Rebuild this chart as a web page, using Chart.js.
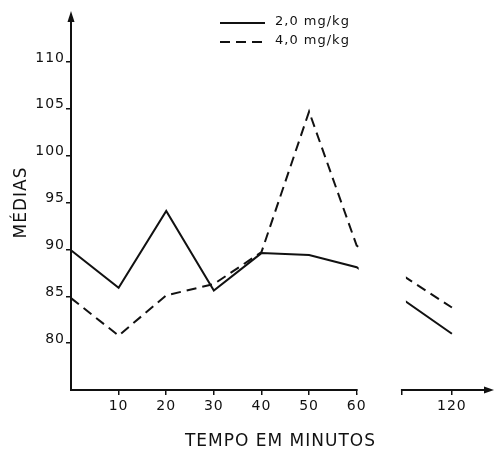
<!DOCTYPE html>
<html>
<head>
<meta charset="utf-8">
<script src="https://cdn.jsdelivr.net/npm/chart.js@4.4.1/dist/chart.umd.min.js"></script>
<style>
  html, body { margin: 0; padding: 0; background: #fff; }
  #wrap { position: relative; width: 494px; height: 452px; }
</style>
</head>
<body>
<div id="wrap"><canvas id="chart"></canvas></div>
<script>
// tempo (min) e médias
var tempos = [0, 10, 20, 30, 40, 50, 60, 120];
var dose2 = [89.9, 85.9, 94.1, 85.6, 89.6, 89.4, 88.1, 81.0];
var dose4 = [84.8, 80.8, 85.1, 86.3, 89.7, 104.7, 90.4, 83.8];
var xTickLabels = [10, 20, 30, 40, 50, 60, 120];
var yTicks = [80, 85, 90, 95, 100, 105, 110];

// eixo x interrompido entre 60 e 120 min
var CORTE = 60, SALTO = 40, INICIO2 = 69.5;
function pos(t) { return t > CORTE ? t - SALTO : t; }
function tempo(p) { return p > CORTE ? p + SALTO : p; }

function pontos(vals) {
  return tempos.map(function(t, i) { return { x: pos(t), y: vals[i] }; });
}

var INK = '#111';
var fonte = 'DejaVu Sans';

// corte do eixo, setas e legenda
var extras = {
  id: 'extras',
  beforeDraw: function(chart) {
    chart.ctx.letterSpacing = '1px';
  },
  afterDatasetsDraw: function(chart) {
    var ctx = chart.ctx, a = chart.chartArea, xs = chart.scales.x;
    var g0 = xs.getPixelForValue(CORTE), g1 = xs.getPixelForValue(INICIO2);
    ctx.save();
    ctx.fillStyle = '#fff';
    ctx.fillRect(g0 + 2, a.top - 5, (g1 + 4) - (g0 + 2), a.bottom - 2 - (a.top - 5));
    ctx.fillRect(g0 + 1, a.bottom - 3, (g1 - 1) - (g0 + 1), 6);
    ctx.restore();
  },
  afterDraw: function(chart) {
    var ctx = chart.ctx, a = chart.chartArea;
    ctx.save();
    ctx.fillStyle = INK;
    // seta eixo y
    ctx.beginPath();
    ctx.moveTo(a.left, a.top - 4);
    ctx.lineTo(a.left - 3.5, a.top + 7);
    ctx.lineTo(a.left + 3.5, a.top + 7);
    ctx.closePath();
    ctx.fill();
    // seta eixo x
    ctx.beginPath();
    ctx.moveTo(a.right + 4, a.bottom);
    ctx.lineTo(a.right - 6, a.bottom - 3.5);
    ctx.lineTo(a.right - 6, a.bottom + 3.5);
    ctx.closePath();
    ctx.fill();

    // legenda
    var rows = [23, 42];
    chart.data.datasets.forEach(function(ds, i) {
      ctx.strokeStyle = ds.borderColor;
      ctx.lineWidth = ds.borderWidth;
      ctx.setLineDash(ds.borderDash || []);
      ctx.beginPath();
      ctx.moveTo(220, rows[i]);
      ctx.lineTo(265, rows[i]);
      ctx.stroke();
      ctx.setLineDash([]);
      ctx.font = '13px "' + fonte + '"';
      ctx.textBaseline = 'middle';
      ctx.textAlign = 'left';
      ctx.fillText(ds.label, 275, rows[i] - 1);
    });
    ctx.restore();
  }
};

new Chart(document.getElementById('chart'), {
  type: 'line',
  data: {
    datasets: [{
      label: '2,0 mg/kg',
      data: pontos(dose2),
      borderColor: INK,
      borderWidth: 2,
      pointRadius: 0,
      tension: 0,
      fill: false
    }, {
      label: '4,0 mg/kg',
      data: pontos(dose4),
      borderColor: INK,
      borderWidth: 2,
      borderDash: [10, 6],
      pointRadius: 0,
      tension: 0,
      fill: false
    }]
  },
  options: {
    responsive: true,
    maintainAspectRatio: false,
    animation: false,
    layout: { padding: { left: 0, top: 15, right: 4, bottom: 0 } },
    plugins: {
      legend: { display: false },
      tooltip: { enabled: false }
    },
    scales: {
      x: {
        type: 'linear',
        min: 0,
        max: 88,
        afterBuildTicks: function(s) {
          s.ticks = xTickLabels.map(pos).concat([INICIO2]).map(function(v) { return { value: v }; });
        },
        afterFit: function(s) { s.height = 62; },
        grid: { display: true, drawOnChartArea: false, drawTicks: true, tickLength: 5, color: INK, lineWidth: 1.5 },
        border: { display: true, color: INK, width: 2 },
        ticks: {
          color: INK,
          font: { family: fonte, size: 14 },
          padding: 3,
          maxRotation: 0,
          autoSkip: false,
          callback: function(v) {
            var t = tempo(v);
            return xTickLabels.indexOf(t) >= 0 ? String(t) : '';
          }
        },
        title: {
          display: true,
          text: 'TEMPO EM MINUTOS',
          color: INK,
          font: { family: fonte, size: 17 },
          padding: { top: 2, bottom: 0 }
        }
      },
      y: {
        type: 'linear',
        min: 75,
        max: 115,
        afterBuildTicks: function(s) {
          s.ticks = yTicks.map(function(v) { return { value: v }; });
        },
        afterFit: function(s) { s.width = 71; },
        grid: { display: true, drawOnChartArea: false, drawTicks: true, tickLength: 5, color: INK, lineWidth: 1.5 },
        border: { display: true, color: INK, width: 2 },
        ticks: {
          color: INK,
          font: { family: fonte, size: 14 },
          padding: 1,
          labelOffset: -4
        },
        title: {
          display: true,
          text: 'MÉDIAS',
          color: INK,
          font: { family: fonte, size: 17 },
          padding: { top: 11, bottom: 0 }
        }
      }
    }
  },
  plugins: [extras]
});
</script>
</body>
</html>
